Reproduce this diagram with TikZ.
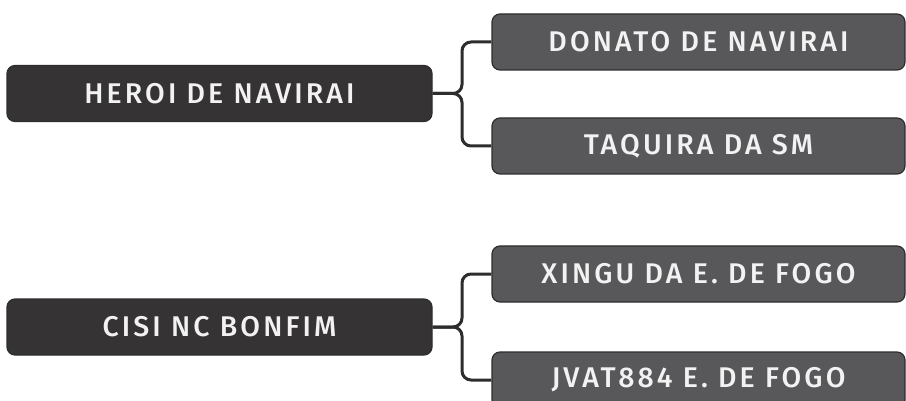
\documentclass[tikz,border=0pt]{standalone}
\usepackage{fontspec}
\setmainfont{Fira Sans}[UprightFont=* Medium, LetterSpace=11]
\definecolor{parentc}{HTML}{363334}
\definecolor{childc}{HTML}{58575A}
\definecolor{linec}{HTML}{2E2D2E}
\definecolor{textc}{HTML}{F2F2F2}
\begin{document}
\begin{tikzpicture}[x=1pt,y=-1pt,
  box/.style={rectangle, rounded corners=8pt, draw=linec, line width=1.2pt, text=textc,
    font=\fontsize{28.5}{32}\selectfont, inner sep=0pt},
  parentbox/.style={box, fill=parentc, minimum width=425pt, minimum height=56pt},
  childbox/.style={box, fill=childc, minimum width=413pt, minimum height=56pt},
  conn/.style={draw=linec, line width=3pt, rounded corners=9pt}]
\useasboundingbox (0,0) rectangle (906,401);
\clip (0,0) rectangle (906,401);
\node[parentbox] (p1) at (219.5,93.5) {HEROI DE NAVIRAI};
\node[childbox] (c1) at (698.5,42) {DONATO DE NAVIRAI};
\node[childbox] (c2) at (698.5,146) {TAQUIRA DA SM};
\node[parentbox] (p2) at (219.5,327) {CISI NC BONFIM};
\node[childbox] (c3) at (698.5,274) {XINGU DA E. DE FOGO};
\node[childbox] (c4) at (698.5,380) {JVAT884 E. DE FOGO};
\coordinate (b1) at (462,93.5);
\coordinate (b2) at (462,327);
\draw[conn] (p1.east) -- (b1) |- (c1.west);
\draw[conn] (p1.east) -- (b1) |- (c2.west);
\draw[conn] (p2.east) -- (b2) |- (c3.west);
\draw[conn] (p2.east) -- (b2) |- (c4.west);
\end{tikzpicture}
\end{document}
